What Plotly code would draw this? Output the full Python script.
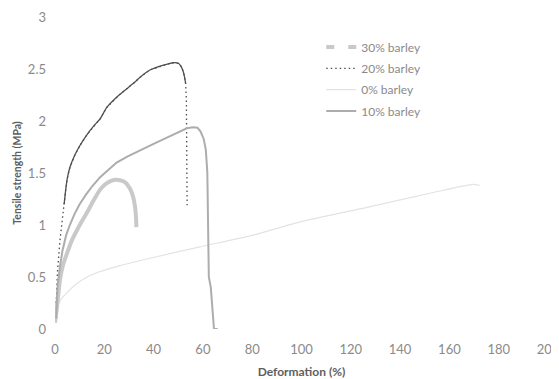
import plotly.graph_objects as go

# 30% barley
x30 = [0, 0.8, 2, 3.3, 4.9, 6.8, 8.9, 11, 13, 15.5, 18.3, 20.3, 22.3, 24.5, 26.4, 28.5, 30.4, 31.7, 32.5, 32.9, 33]
y30 = [0.06, 0.21, 0.47, 0.62, 0.73, 0.85, 0.95, 1.04, 1.12, 1.23, 1.34, 1.39, 1.42, 1.435, 1.43, 1.41, 1.35, 1.27, 1.17, 1.06, 0.98]

# 20% barley
x20 = [0.5, 1, 2, 3, 3.7, 4.3, 5, 6, 8, 10, 13, 16, 18.3, 21, 26, 31.7, 35, 38.5, 43, 46, 48, 50, 51, 51.8, 52.5, 53, 53.3, 53.5, 53.6]
y20 = [0.25, 0.55, 0.85, 1.08, 1.2, 1.33, 1.45, 1.55, 1.67, 1.76, 1.87, 1.96, 2.02, 2.13, 2.25, 2.36, 2.43, 2.49, 2.53, 2.55, 2.56, 2.555, 2.53, 2.49, 2.43, 2.36, 2.2, 1.6, 1.19]

# 0% barley
x0 = [1.2, 2.5, 4.9, 8, 13, 18, 25, 38.5, 58.8, 80, 99.4, 126.6, 153, 169.6, 172.4]
y0 = [0.23, 0.29, 0.35, 0.42, 0.5, 0.55, 0.6, 0.68, 0.79, 0.9, 1.03, 1.17, 1.31, 1.39, 1.38]

# 10% barley
x10 = [0.5, 1, 2, 3, 4.5, 6, 8, 10, 12.5, 15, 18.3, 21, 25, 29.5, 34.5, 40, 45.4, 50, 53.5, 56, 57.8, 59, 60.3, 61.2, 61.8, 62.1, 62.4, 63.2, 63.7, 64.2, 64.5, 66]
y10 = [0.1, 0.4, 0.6, 0.75, 0.9, 1.0, 1.11, 1.2, 1.29, 1.37, 1.46, 1.52, 1.6, 1.66, 1.72, 1.78, 1.84, 1.89, 1.93, 1.94, 1.935, 1.9, 1.83, 1.72, 1.5, 1.0, 0.5, 0.4, 0.2, 0.05, 0.0, 0.0]

x_ticks = [0, 20, 40, 60, 80, 100, 120, 140, 160, 180, 200]
y_ticks = [0, 0.5, 1, 1.5, 2, 2.5, 3]

C20 = "#4f4f4f"

fig = go.Figure()
fig.add_trace(go.Scatter(x=x0, y=y0, mode="lines", name="0% barley", legendrank=3, legendgroup="g0",
                         line=dict(color="#e3e3e3", width=1.2, shape="spline", smoothing=0.6)))
fig.add_trace(go.Scatter(x=x30, y=y30, mode="lines", showlegend=False,
                         line=dict(color="#c9c9c9", width=4, shape="spline", smoothing=0.5)))
fig.add_trace(go.Scatter(x=[None], y=[None], mode="lines", name="30% barley", legendrank=1, legendgroup="g30",
                         line=dict(color="#c9c9c9", width=4, dash="8px,14px")))
# solid-looking middle part of 20% curve
fig.add_trace(go.Scatter(x=x20[4:26], y=y20[4:26], mode="lines", showlegend=False,
                         line=dict(color=C20, width=1.3, shape="spline", smoothing=0.5)))
fig.add_trace(go.Scatter(x=x20, y=y20, mode="lines", name="20% barley", legendrank=2, legendgroup="g20",
                         line=dict(color=C20, width=1.3, dash="1.5px,3px")))
fig.add_trace(go.Scatter(x=x10, y=y10, mode="lines", name="10% barley", legendrank=4, legendgroup="g10",
                         line=dict(color="#adadad", width=2)))

fig.update_layout(
    width=551, height=371,
    margin=dict(l=47, r=11, t=9, b=50),
    paper_bgcolor="white", plot_bgcolor="white",
    font=dict(family="Lato, Open Sans, sans-serif", color="#8a8a8a", size=12),
    showlegend=True,
    legend=dict(x=0.54, y=0.95, xanchor="left", yanchor="top",
                bgcolor="rgba(0,0,0,0)", font=dict(size=12, color="#8a8a8a"),
                tracegroupgap=2.3, itemwidth=30),
    xaxis=dict(range=[0, 200], tickvals=x_ticks, showgrid=False, zeroline=False,
               showline=False, ticks="", automargin=False, ticklabeloverflow="allow",
               tickfont=dict(size=13, color="#8a8a8a"), ticklabelstandoff=11,
               title=dict(text="<b>Deformation (%)</b>", font=dict(size=12, color="#5e5e5e"), standoff=14)),
    yaxis=dict(range=[0, 3], tickvals=y_ticks, showgrid=False, zeroline=False,
               showline=False, ticks="", automargin=False,
               tickfont=dict(size=13, color="#8a8a8a"), ticklabelstandoff=8,
               title=dict(text="<b>Tensile strength (MPa)</b>", font=dict(size=10.5, color="#5e5e5e"), standoff=4)),
)

fig.write_html("out.html")
